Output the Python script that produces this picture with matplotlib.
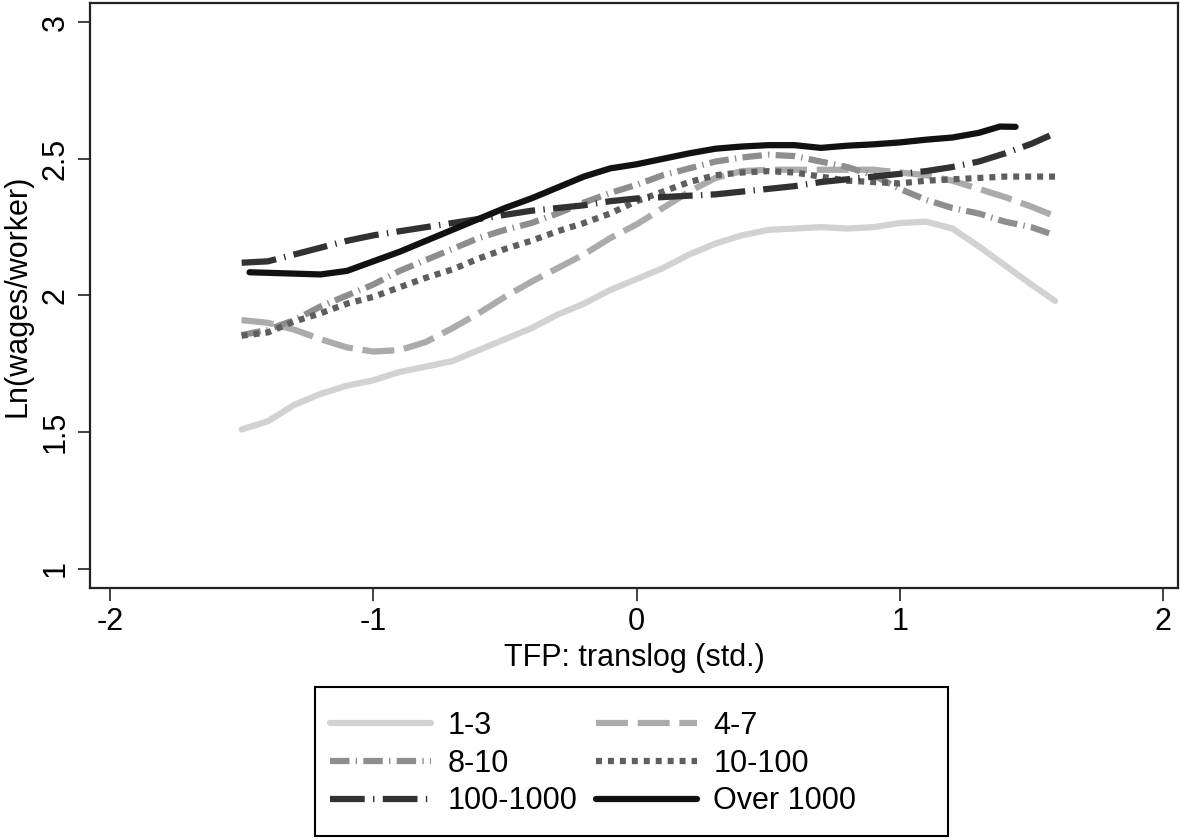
import numpy as np
import matplotlib
matplotlib.use("Agg")
import matplotlib.pyplot as plt
from matplotlib.patches import Rectangle

plt.rcParams['font.family'] = ['Liberation Sans', 'DejaVu Sans']
plt.rcParams['lines.scale_dashes'] = False
plt.rcParams['axes.unicode_minus'] = False

# TFP grid (std.)
x = [-1.5, -1.4, -1.3, -1.2, -1.1, -1.0, -0.9, -0.8, -0.7, -0.6, -0.5, -0.4, -0.3, -0.2, -0.1, 0.0,
     0.1, 0.2, 0.3, 0.4, 0.5, 0.6, 0.7, 0.8, 0.9, 1.0, 1.1, 1.2, 1.3, 1.4, 1.5, 1.59]

y_1_3 = [1.51, 1.54, 1.60, 1.64, 1.67, 1.69, 1.72, 1.74, 1.76, 1.80, 1.84, 1.88, 1.93, 1.97, 2.02, 2.06,
         2.10, 2.15, 2.19, 2.22, 2.24, 2.245, 2.25, 2.245, 2.25, 2.265, 2.27, 2.245, 2.18, 2.11, 2.04, 1.98]
y_4_7 = [1.91, 1.90, 1.875, 1.84, 1.81, 1.795, 1.80, 1.83, 1.88, 1.935, 1.995, 2.05, 2.10, 2.15, 2.21, 2.26,
         2.32, 2.38, 2.43, 2.455, 2.46, 2.46, 2.46, 2.46, 2.46, 2.45, 2.44, 2.42, 2.39, 2.36, 2.325, 2.29]
y_8_10 = [1.855, 1.875, 1.91, 1.96, 2.0, 2.04, 2.09, 2.13, 2.17, 2.21, 2.24, 2.265, 2.30, 2.34, 2.375, 2.405,
          2.44, 2.465, 2.49, 2.505, 2.515, 2.51, 2.49, 2.47, 2.44, 2.39, 2.35, 2.32, 2.30, 2.27, 2.25, 2.22]
y_10_100 = [1.853, 1.865, 1.905, 1.935, 1.97, 1.995, 2.03, 2.065, 2.095, 2.135, 2.17, 2.2, 2.235, 2.265, 2.30, 2.345,
            2.38, 2.415, 2.44, 2.45, 2.455, 2.45, 2.435, 2.42, 2.415, 2.41, 2.42, 2.425, 2.43, 2.435, 2.435, 2.435]

x_100 = [-1.5, -1.4, -1.3, -1.2, -1.1, -1.0, -0.9, -0.8, -0.7, -0.6, -0.5, -0.4, -0.3, -0.2, -0.1, 0.0,
         0.1, 0.2, 0.3, 0.4, 0.5, 0.6, 0.7, 0.8, 0.9, 1.0, 1.1, 1.2, 1.3, 1.4, 1.5, 1.57]
y_100_1000 = [2.12, 2.125, 2.15, 2.175, 2.2, 2.22, 2.235, 2.25, 2.265, 2.28, 2.295, 2.31, 2.32, 2.33, 2.345, 2.355,
              2.36, 2.365, 2.37, 2.38, 2.39, 2.40, 2.415, 2.425, 2.435, 2.445, 2.455, 2.47, 2.49, 2.52, 2.555, 2.585]

x_over = [-1.47, -1.4, -1.3, -1.2, -1.1, -1.0, -0.9, -0.8, -0.7, -0.6, -0.5, -0.4, -0.3, -0.2, -0.1, 0.0,
          0.1, 0.2, 0.3, 0.4, 0.5, 0.6, 0.7, 0.8, 0.9, 1.0, 1.1, 1.2, 1.3, 1.38, 1.44]
y_over = [2.085, 2.083, 2.08, 2.077, 2.09, 2.125, 2.16, 2.2, 2.24, 2.28, 2.32, 2.355, 2.395, 2.435, 2.465, 2.48,
          2.50, 2.52, 2.537, 2.545, 2.55, 2.55, 2.54, 2.548, 2.553, 2.56, 2.57, 2.578, 2.595, 2.618, 2.617]

fig = plt.figure(figsize=(11.81, 8.39), dpi=100)
ax = fig.add_axes([0.0762, 0.2992, 0.9213, 0.6972])

lw = 4.5
l1, = ax.plot(x, y_1_3, color='#d2d2d2', lw=lw, solid_capstyle='round', label='1-3')
l2, = ax.plot(x, y_4_7, color='#ababab', lw=lw, dashes=(23, 7), label='4-7')
l3, = ax.plot(x, y_8_10, color='#8e8e8e', lw=lw, dashes=(14, 4.5, 1, 4.5), label='8-10')
l4, = ax.plot(x, y_10_100, color='#5e5e5e', lw=lw, dashes=(4.3, 4.3), label='10-100')
l5, = ax.plot(x_100, y_100_1000, color='#323232', lw=lw, dashes=(25, 6, 1, 6), label='100-1000')
l6, = ax.plot(x_over, y_over, color='#111111', lw=lw, solid_capstyle='round', label='Over 1000')

ax.set_xlim(-2.076, 2.057)
ax.set_ylim(0.93, 3.07)
ax.set_xticks([-2, -1, 0, 1, 2])
ax.set_yticks([1, 1.5, 2, 2.5, 3])
ax.set_yticklabels(['1', '1.5', '2', '2.5', '3'])
ax.tick_params(labelsize=22, length=9, width=1.3, color='#333333', pad=5)
plt.setp(ax.get_yticklabels(), rotation=90, va='center')
for s in ax.spines.values():
    s.set_linewidth(1.6)
    s.set_color('#222222')

ax.set_xlabel('TFP: translog (std.)', fontsize=22, labelpad=4)
ax.set_ylabel('Ln(wages/worker)', fontsize=22, labelpad=6)

# row-major order like the original: 1-3 | 4-7 / 8-10 | 10-100 / 100-1000 | Over 1000
handles = [l1, l3, l5, l2, l4, l6]
leg = fig.legend(handles, [h.get_label() for h in handles], loc='center left',
                 bbox_to_anchor=(330 / 1181, 1 - 763.5 / 839), ncol=2, fontsize=22,
                 handlelength=3.3, columnspacing=0.6, labelspacing=0.26, handletextpad=0.55,
                 frameon=False, borderpad=0, borderaxespad=0)
fig.patches.append(Rectangle((315 / 1181, 3 / 839), 633 / 1181, 149 / 839,
                             transform=fig.transFigure, fill=False, edgecolor='black', lw=1.5))

plt.savefig('out.png', dpi=100)
